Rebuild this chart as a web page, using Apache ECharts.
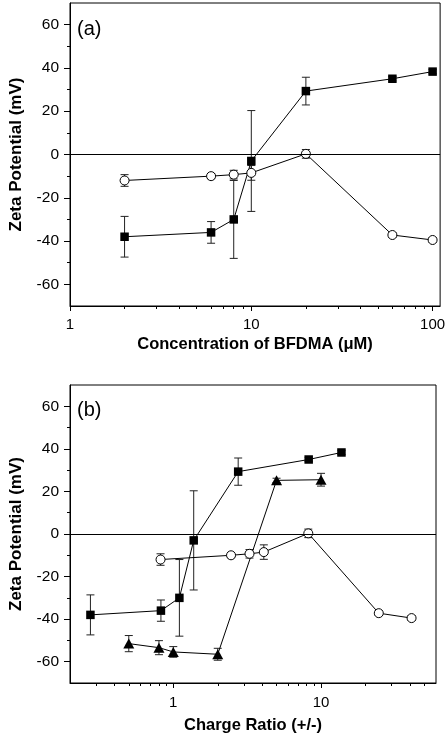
<!DOCTYPE html>
<html>
<head>
<meta charset="utf-8">
<script src="https://cdn.jsdelivr.net/npm/echarts@6/dist/echarts.min.js"></script>
<style>html,body{margin:0;padding:0;background:#fff}#c{width:448px;height:737px}</style>
</head>
<body>
<div id="c"></div>
<script>
// ---- data ----
const concA = [2, 6, 8, 10, 20, 60, 100];
const zetaSquare = [-38, -36, -30, -3, 29.3, 35, 38.3];
const errSquare = [9.4, 5, 18, 23.3, 6.4, 1, 1];
const zetaCircle = [-12, -10, -9.3, -8.5, 0.3, -37.2, -39.5];
const errCircle = [2.7, 1.2, 2, 3.4, 2, 1, 1];
const ratioSquare = [0.275, 0.825, 1.1, 1.375, 2.75, 8.25, 13.75];
const ratioCircle = [0.82, 2.46, 3.28, 4.1, 8.2, 24.6, 41];
const ratioTriangle = [0.5, 0.8, 1, 2, 5, 10];
const zetaTriangle = [-51.5, -53.4, -55.4, -56.5, 25.2, 25.5];
const errTriangle = [3.8, 3.3, 2.5, 2.8, 1, 3];

const xMajorA = [1, 10, 100];
const xMinorA = [2, 3, 4, 5, 6, 7, 8, 9, 20, 30, 40, 50, 60, 70, 80, 90];
const xMajorB = [1, 10];
const xMinorB = [0.3, 0.4, 0.5, 0.6, 0.7, 0.8, 0.9, 2, 3, 4, 5, 6, 7, 8, 9, 20, 30, 40, 50];
const yMajor = [-60, -40, -20, 0, 20, 40, 60];
const yMinor = [-50, -30, -10, 10, 30, 50];
const xRangeA = [1, 110];
const xRangeB = [0.2, 60];
const yRange = [-70, 70];

// ---- helpers ----
const L = Math.log10;
const FONT = "'Liberation Sans', Arial, sans-serif";
const pts = (xs, ys) => xs.map((x, i) => [L(x), ys[i]]);
const errs = (xs, ys, es) => xs.map((x, i) => [L(x), ys[i] - es[i], ys[i] + es[i]]);
const fmtLog = v => { const n = Math.pow(10, v); return String(Math.round(n * 1000) / 1000); };

function errRender(params, api) {
  const x = api.value(0), lo = api.value(1), hi = api.value(2);
  const a = api.coord([x, hi]), b = api.coord([x, lo]);
  const w = 4, st = { stroke: '#222', lineWidth: 1 };
  return { type: 'group', children: [
    { type: 'line', shape: { x1: a[0], y1: a[1], x2: b[0], y2: b[1] }, style: st },
    { type: 'line', shape: { x1: a[0] - w, y1: a[1], x2: a[0] + w, y2: a[1] }, style: st },
    { type: 'line', shape: { x1: b[0] - w, y1: b[1], x2: b[0] + w, y2: b[1] }, style: st }
  ]};
}

function xAxes(grid, range, major, minor, name, gap, margin) {
  const base = { type: 'value', gridIndex: grid, position: 'bottom', offset: 0,
    min: L(range[0]), max: L(range[1]), splitLine: { show: false } };
  return [
    Object.assign({}, base, {
      name: name, nameLocation: 'middle', nameGap: gap,
      nameTextStyle: { fontFamily: FONT, fontWeight: 'bold', fontSize: 16.5, color: '#000' },
      axisLine: { show: true, onZero: false, lineStyle: { color: '#000', width: 1 } },
      axisTick: { show: true, length: 5, customValues: major.map(L), lineStyle: { color: '#000' } },
      axisLabel: { customValues: major.map(L), formatter: fmtLog, fontFamily: FONT, fontSize: 15, color: '#000', margin: margin }
    }),
    Object.assign({}, base, {
      axisLine: { show: false, onZero: false },
      axisTick: { show: true, length: 3, customValues: minor.map(L), lineStyle: { color: '#000' } },
      axisLabel: { show: false }
    })
  ];
}
function yAxes(grid) {
  const base = { type: 'value', gridIndex: grid, position: 'left', offset: 0,
    min: yRange[0], max: yRange[1], splitLine: { show: false } };
  return [
    Object.assign({}, base, {
      name: 'Zeta Potential (mV)', nameLocation: 'middle', nameGap: 45,
      nameTextStyle: { fontFamily: FONT, fontWeight: 'bold', fontSize: 17, color: '#000' },
      axisLine: { show: true, onZero: false, lineStyle: { color: '#000', width: 1 } },
      axisTick: { show: true, length: 6, customValues: yMajor, lineStyle: { color: '#000' } },
      axisLabel: { customValues: yMajor, fontFamily: FONT, fontSize: 15.5, color: '#000', margin: 11 }
    }),
    Object.assign({}, base, {
      axisLine: { show: false, onZero: false },
      axisTick: { show: true, length: 3, customValues: yMinor, lineStyle: { color: '#000' } },
      axisLabel: { show: false }
    })
  ];
}

const lineStyle = { color: '#000', width: 1 };
function lineSeries(xi, yi, data, symbol, size, filled, extra) {
  return Object.assign({
    type: 'line', xAxisIndex: xi, yAxisIndex: yi, data: data,
    symbol: symbol, symbolSize: size, showSymbol: true,
    lineStyle: lineStyle,
    itemStyle: filled ? { color: '#000', borderWidth: 0 } : { color: '#fff', borderColor: '#000', borderWidth: 1 },
    z: 3, animation: false
  }, extra || {});
}
function errSeries(xi, yi, data) {
  return { type: 'custom', xAxisIndex: xi, yAxisIndex: yi, data: data, renderItem: errRender,
    encode: { x: 0, y: [1, 2] }, z: 2, animation: false };
}
const zeroLine = { symbol: 'none', silent: true, label: { show: false },
  lineStyle: { color: '#000', width: 1, type: 'solid' }, data: [{ yAxis: 0 }], animation: false };

const option = {
  backgroundColor: '#fff',
  animation: false,
  grid: [
    { left: 64, top: 3, width: 378, height: 303, show: true, borderColor: '#000', borderWidth: 1, backgroundColor: 'transparent' },
    { left: 64, top: 385, width: 372, height: 298, show: true, borderColor: '#000', borderWidth: 1, backgroundColor: 'transparent' }
  ],
  xAxis: [].concat(
    xAxes(0, xRangeA, xMajorA, xMinorA, 'Concentration of BFDMA (\u03BCM)', 30, 11),
    xAxes(1, xRangeB, xMajorB, xMinorB, 'Charge Ratio (+/-)', 34, 12)
  ),
  yAxis: [].concat(yAxes(0), yAxes(1)),
  graphic: [
    { type: 'text', left: 77, top: 19, style: { text: '(a)', font: '20px ' + FONT, fill: '#000' } },
    { type: 'text', left: 77, top: 400, style: { text: '(b)', font: '20px ' + FONT, fill: '#000' } }
  ],
  series: [
    // panel (a)
    errSeries(0, 0, errs(concA, zetaSquare, errSquare)),
    errSeries(0, 0, errs(concA, zetaCircle, errCircle)),
    lineSeries(0, 0, pts(concA, zetaSquare), 'rect', 8.5, true, { markLine: zeroLine }),
    lineSeries(0, 0, pts(concA, zetaCircle), 'circle', 9, false),
    // panel (b)
    errSeries(2, 2, errs(ratioSquare, zetaSquare, errSquare)),
    errSeries(2, 2, errs(ratioCircle, zetaCircle, errCircle)),
    errSeries(2, 2, errs(ratioTriangle, zetaTriangle, errTriangle)),
    lineSeries(2, 2, pts(ratioSquare, zetaSquare), 'rect', 8.5, true, { markLine: zeroLine }),
    lineSeries(2, 2, pts(ratioCircle, zetaCircle), 'circle', 9, false),
    lineSeries(2, 2, pts(ratioTriangle, zetaTriangle), 'triangle', [11, 10], true)
  ]
};
const chart = echarts.init(document.getElementById('c'), null, { renderer: 'canvas' });
chart.setOption(option);
</script>
</body>
</html>
